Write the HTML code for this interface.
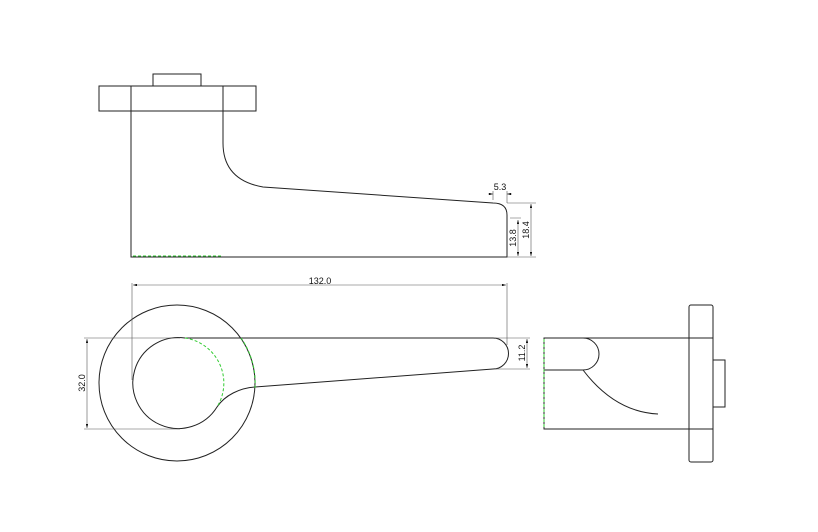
<!DOCTYPE html>
<html><head><meta charset="utf-8"><style>html,body{margin:0;padding:0;background:#fff}svg{display:block}text{font-family:"Liberation Sans",sans-serif;font-size:9px;fill:#111}</style></head>
<body>
<svg width="818" height="532" viewBox="0 0 818 532" xmlns="http://www.w3.org/2000/svg">
<defs>
<marker id="a" viewBox="0 0 10 6" refX="10" refY="3" markerWidth="7" markerHeight="4" orient="auto-start-reverse"><path d="M0,0L10,3L0,6z" fill="#111"/></marker>
</defs>
<g fill="none" stroke="#222" stroke-width="1">
<!-- top view -->
<rect x="153" y="74" width="48" height="12"/>
<rect x="99" y="86" width="157" height="25"/>
<path d="M131,86V257H507V215Q507,203 493,203L263,187Q223,180 223,143V86"/>
<!-- dims top -->
<g stroke="#555" stroke-width="0.6">
<path d="M493,200V191M507,203V191M507,203H536M507,257H536M510,218H521"/>
<line x1="518" y1="220" x2="518" y2="256" marker-start="url(#a)" marker-end="url(#a)"/>
<line x1="531" y1="204" x2="531" y2="256" marker-start="url(#a)" marker-end="url(#a)"/>
<line x1="488" y1="194" x2="493" y2="194" marker-end="url(#a)"/>
<line x1="512" y1="194" x2="507" y2="194" marker-end="url(#a)"/>
</g>
<!-- front view -->
<circle cx="177" cy="383" r="78"/>
<path d="M217,407C225,395 240,388 255,387L493,369A15.5,15.5 0 0 0 493,338H185A45.5,45.5 0 1 0 217,407"/>
<g stroke="#555" stroke-width="0.6">
<line x1="133" y1="285" x2="506" y2="285" marker-start="url(#a)" marker-end="url(#a)"/>
<path d="M132,283V380M507,283V345M84,338H180M84,429H180M495,338H530M495,369H530"/>
<line x1="87" y1="339" x2="87" y2="428" marker-start="url(#a)" marker-end="url(#a)"/>
<line x1="527" y1="339" x2="527" y2="368" marker-start="url(#a)" marker-end="url(#a)"/>
</g>
<!-- side view -->
<rect x="544" y="338" width="169" height="91"/>
<path d="M544,370H583A16,16 0 0 0 583,338M583,370Q615,412 658,414"/>
<rect x="689" y="305" width="24" height="157" rx="2"/>
<rect x="713" y="360" width="12" height="47"/>
</g>
<g fill="none" stroke="#3c3" stroke-width="1" stroke-dasharray="3,2">
<path d="M133,256H222"/>
<path d="M185,338A45.5,45.5 0 0 1 217,407"/>
<path d="M241,338A78,78 0 0 1 255,388"/>
<path d="M544,339V428"/>
</g>
<text x="320" y="284" text-anchor="middle">132.0</text>
<text x="500" y="190" text-anchor="middle" font-size="8">5.3</text>
<text transform="translate(516,238) rotate(-90)" text-anchor="middle" font-size="8">13.8</text>
<text transform="translate(529,230) rotate(-90)" text-anchor="middle" font-size="8">18.4</text>
<text transform="translate(85,383) rotate(-90)" text-anchor="middle" font-size="8">32.0</text>
<text transform="translate(525,353) rotate(-90)" text-anchor="middle" font-size="8">11.2</text>
</svg>
</body></html>
